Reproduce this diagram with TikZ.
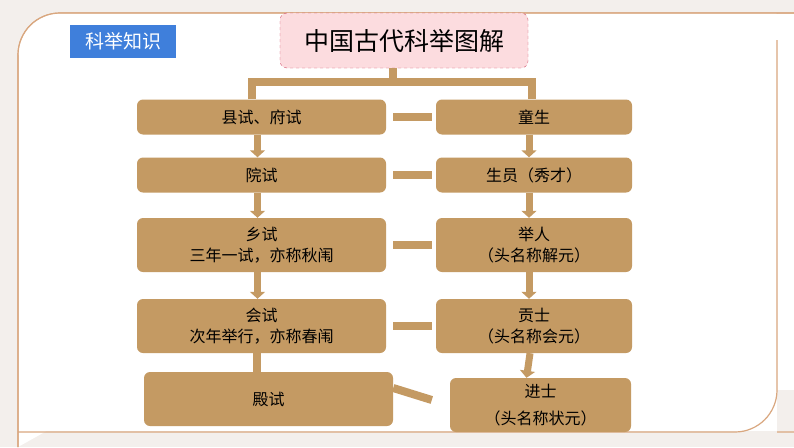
\documentclass[tikz,border=0pt]{standalone}
\usepackage{fontspec}
\setmainfont{Noto Sans CJK SC}
\usetikzlibrary{arrows.meta}
\definecolor{tan}{HTML}{C49A63}
\definecolor{bg}{HTML}{F3EFEC}
\definecolor{pinkf}{HTML}{FCDCDF}
\definecolor{pinkd}{HTML}{D0506A}
\definecolor{blueb}{HTML}{3F7FDB}
\definecolor{edge}{HTML}{D9A77F}
\begin{document}
\begin{tikzpicture}[x=1pt,y=-1pt,
  box/.style={fill=tan,rounded corners=6pt,inner sep=0pt,align=center,font=\fontsize{16}{21}\selectfont},
  bar/.style={draw=tan,line width=8pt},
  arr/.style={draw=tan,line width=7pt,-{Triangle[width=15pt,length=7pt]}}]
\useasboundingbox (0,0) rectangle (794,447);
\fill[bg] (0,0) rectangle (794,447);
\draw[edge,fill=white,line width=1.2pt] (18,447) -- (18,55) arc[start angle=180,end angle=270,radius=42] -- (794,13) -- (794,13) (794,432) -- (777,432);
\fill[white] (18.6,55) arc[start angle=180,end angle=270,radius=41.4] -- (777,13.6) -- (777,390) -- (777,390) -- cycle;
\fill[white] (18.6,55) rectangle (777,431.4);
\fill[white] (60,13.6) rectangle (794,390);
\draw[edge,line width=1.2pt] (18,447) -- (18,55) arc[start angle=180,end angle=270,radius=42] -- (794,13);
\draw[edge,line width=1.2pt] (18,432) -- (735,432) arc[start angle=90,end angle=0,radius=42] -- (777,13.6);
\fill[white] (760,14.2) rectangle (794,40);
\node[fill=blueb,text=white,minimum width=106pt,minimum height=33pt,inner sep=0pt,font=\fontsize{19}{22}\selectfont] (kj) at (123,41.5) {科举知识};
\node[fill=pinkf,draw=pinkd,dashed,rounded corners=7pt,minimum width=248pt,minimum height=55pt,inner sep=0pt,font=\fontsize{25}{28}\selectfont] (title) at (404,40.5) {中国古代科举图解};
\node[box,minimum width=249pt,minimum height=35pt] (xian) at (261.5,117) {县试、府试};
\node[box,minimum width=196pt,minimum height=35pt] (tong) at (534,117) {童生};
\node[box,minimum width=249pt,minimum height=35pt] (yuan) at (261.5,175) {院试};
\node[box,minimum width=196pt,minimum height=35pt] (sheng) at (534,175) {生员（秀才）};
\node[box,minimum width=249pt,minimum height=54pt] (xiang) at (261.5,245) {乡试\\三年一试，亦称秋闱};
\node[box,minimum width=196pt,minimum height=54pt] (ju) at (534,245) {举人\\（头名称解元）};
\node[box,minimum width=249pt,minimum height=54pt] (hui) at (261.5,326) {会试\\次年举行，亦称春闱};
\node[box,minimum width=196pt,minimum height=54pt] (gong) at (534,326) {贡士\\（头名称会元）};
\node[box,minimum width=249pt,minimum height=54pt] (dian) at (268.5,399) {殿试};
\node[box,minimum width=181pt,minimum height=54pt] (jin) at (540.5,405) {\raisebox{6pt}{进士}\\（头名称状元）};
\coordinate (bl) at (252,82);
\coordinate (br) at (532,82);
\draw[bar] (xian.north -| bl) -- (bl) -- (br) -- (tong.north -| br);
\draw[bar] (title.south -| 393,0) -- (393,82);
\foreach \a/\b in {xian/tong,yuan/sheng,xiang/ju,hui/gong}
  \draw[bar] ([xshift=7pt]\a.east) -- ([xshift=-4pt]\b.west);
\draw[bar] ([xshift=0pt,yshift=11pt]dian.east) -- ([xshift=-18pt,yshift=5pt]jin.west);
\foreach \a/\b in {xian/yuan,yuan/xiang,xiang/hui}
  \draw[arr] ([xshift=-4pt]\a.south) -- ([xshift=-4pt]\b.north);
\foreach \a/\b in {tong/sheng,sheng/ju,ju/gong}
  \draw[arr] ([xshift=-5pt]\a.south) -- ([xshift=-5pt]\b.north);
\draw[arr] ([xshift=-4pt]gong.south) -- ([xshift=-14pt]jin.north);
\draw[bar] ([xshift=-5pt]hui.south) -- ([xshift=-12pt]dian.north);
\end{tikzpicture}
\end{document}
